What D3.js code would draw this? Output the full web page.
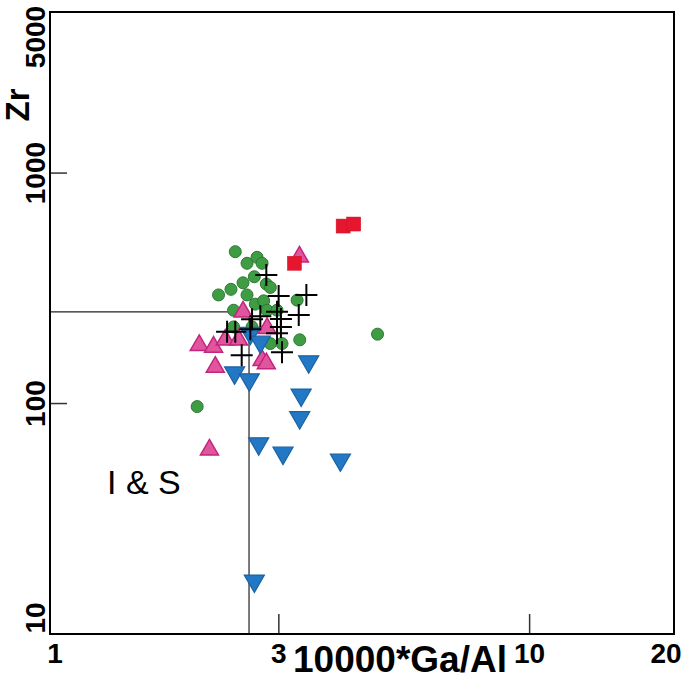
<!DOCTYPE html>
<html><head><meta charset="utf-8">
<script src="https://cdn.jsdelivr.net/npm/d3@7"></script>
<style>body{margin:0;background:#fff}svg{display:block}text{font-family:"Liberation Sans",Arial,sans-serif}</style>
</head><body>
<svg id="c" width="685" height="680"></svg>
<script>
// Data: [10000*Ga/Al, Zr]
const greenCircles = [
  [2.434,456],[2.575,406],[2.702,431],[2.768,406],[2.667,355],[2.526,334],[2.384,313],
  [2.246,296],[2.575,296],[2.825,330],[2.880,319],[2.680,270],[2.789,279],[3.275,281],
  [2.414,254],[2.835,254],[2.974,254],[2.638,215],[2.414,215],[2.880,182],[3.046,182],
  [3.317,189],[2.027,97],[4.818,200]
];
const pinkTriangles = [
  [3.312,433],[2.526,250],[2.835,212],[2.047,179],[2.193,176],[2.320,189],[2.473,189],
  [2.211,144],[2.768,154],[2.825,149],[2.150,63]
];
const blueTriangles = [
  [2.616,202],[2.745,185],[3.462,152],[2.426,136],[2.603,127],[3.339,109],[3.317,87],
  [2.723,67],[3.061,61],[4.032,57],[2.667,17]
];
const redSquares = [[3.233,406],[4.085,589],[4.298,601]];
const crosses = [
  [2.825,361],[2.997,293],[3.424,296],[2.745,239],[2.974,250],[3.03,233],[3.301,242],
  [2.638,232],[2.434,205],[2.34,205],[2.616,210],[2.974,202],[2.51,162],[3.046,167],[3.03,215]
];
const xTicks = [1,3,10,20];
const xTickMarks = [3,10];
const yTicks = [10,100,1000,5000];
const yTickMarks = [100,1000];
const boundary = {ga:2.6, zr:250};

const svg = d3.select("#c");
const L=50,R=674,T=12,B=634;
const x = d3.scaleLog().domain([1,20]).range([L,R]);
const y = d3.scaleLog().domain([10,5000]).range([B,T]);

// discrimination lines
svg.append("line").attr("x1",L).attr("x2",x(boundary.ga)).attr("y1",y(boundary.zr)).attr("y2",y(boundary.zr))
  .attr("stroke","#222").attr("stroke-width",1.2);
svg.append("line").attr("x1",x(boundary.ga)).attr("x2",x(boundary.ga)).attr("y1",y(boundary.zr)).attr("y2",B)
  .attr("stroke","#222").attr("stroke-width",1.2);

// tick marks
svg.selectAll(".xt").data(xTickMarks).enter().append("line")
  .attr("x1",d=>x(d)).attr("x2",d=>x(d)).attr("y1",B).attr("y2",B-20).attr("stroke","#333").attr("stroke-width",1.5);
svg.selectAll(".yt").data(yTickMarks).enter().append("line")
  .attr("y1",d=>y(d)).attr("y2",d=>y(d)).attr("x1",L).attr("x2",L+17).attr("stroke","#333").attr("stroke-width",1.5);

// frame
svg.append("rect").attr("x",L).attr("y",T).attr("width",R-L).attr("height",B-T)
  .attr("fill","none").attr("stroke","#000").attr("stroke-width",2);

// x tick labels
const xLabelPos = {1:55,3:null,10:null,20:666};
svg.selectAll(".xl").data(xTicks).enter().append("text")
  .attr("x",d=>xLabelPos[d]!=null?xLabelPos[d]:x(d)).attr("y",663)
  .attr("text-anchor","middle").attr("font-size",28).attr("font-weight","bold").text(d=>d);
// y tick labels (rotated)
const yCenter = d=> d===10?618:(d===5000?37:y(d));
svg.selectAll(".yl").data(yTicks).enter().append("text")
  .attr("transform",d=>`translate(45,${yCenter(d)}) rotate(-90)`)
  .attr("text-anchor","middle").attr("font-size",28).attr("font-weight","bold").text(d=>d);

// axis titles
svg.append("text").attr("x",400).attr("y",672).attr("text-anchor","middle")
  .attr("font-size",36).attr("font-weight","bold").attr("textLength",214).attr("lengthAdjust","spacingAndGlyphs")
  .text("10000*Ga/Al");
svg.append("text").attr("transform","translate(29,105) rotate(-90)").attr("text-anchor","middle")
  .attr("font-size",33).attr("font-weight","bold").text("Zr");
svg.append("text").attr("x",107).attr("y",494).attr("font-size",34).text("I & S");

// marks
svg.selectAll(".g").data(greenCircles).enter().append("circle")
  .attr("cx",d=>x(d[0])).attr("cy",d=>y(d[1])).attr("r",6)
  .attr("fill","#3f9c45").attr("stroke","#2b7a30").attr("stroke-width",1);

const tri = d3.symbol().type(d3.symbolTriangle).size(140);
svg.selectAll(".p").data(pinkTriangles).enter().append("path")
  .attr("d",tri).attr("transform",d=>`translate(${x(d[0])},${y(d[1])})`)
  .attr("fill","#e0569c").attr("stroke","#c4237f").attr("stroke-width",1.5);

const triB = d3.symbol().type(d3.symbolTriangle).size(175);
svg.selectAll(".b").data(blueTriangles).enter().append("path")
  .attr("d",triB).attr("transform",d=>`translate(${x(d[0])},${y(d[1])}) rotate(180)`)
  .attr("fill","#2278c4").attr("stroke","#1a62a3").attr("stroke-width",1.2);

svg.selectAll(".cr").data(crosses).enter().append("path")
  .attr("d",d=>{const cx=x(d[0]),cy=y(d[1]);return `M${cx-11},${cy}H${cx+11}M${cx},${cy-11}V${cy+11}`;})
  .attr("stroke","#000").attr("stroke-width",2).attr("fill","none");

svg.selectAll(".r").data(redSquares).enter().append("rect")
  .attr("x",d=>x(d[0])-7).attr("y",d=>y(d[1])-7).attr("width",14).attr("height",14)
  .attr("fill","#e5162d").attr("stroke","#d01028").attr("stroke-width",0.5);
</script>
</body></html>
